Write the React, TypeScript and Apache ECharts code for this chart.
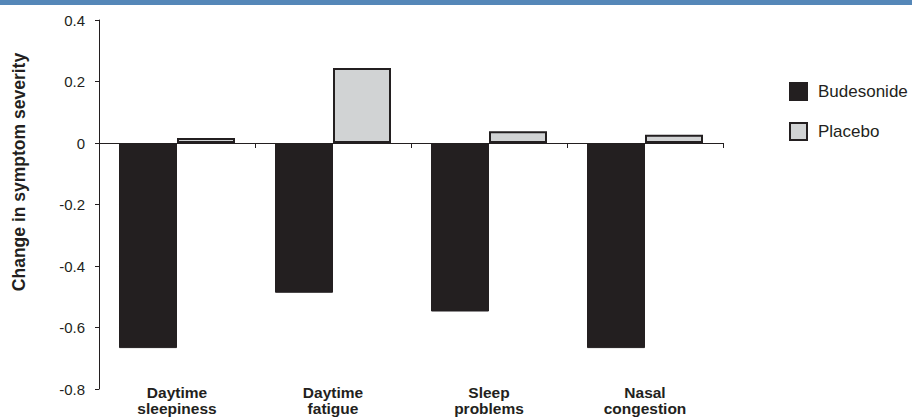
import React, { useEffect, useRef } from "react";
import * as echarts from "echarts";

const categories = ["Daytime\nsleepiness", "Daytime\nfatigue", "Sleep\nproblems", "Nasal\ncongestion"];
const budesonide = [-0.667, -0.487, -0.548, -0.667];
const placebo = [0.016, 0.244, 0.038, 0.027];
const seriesNames = ["Budesonide", "Placebo"];
const yTitle = "Change in symptom severity";

const DARK = "#231f20";
const FONT = "'Liberation Sans', Arial, Helvetica, sans-serif";

export default function App() {
  const ref = useRef<HTMLDivElement>(null);
  useEffect(() => {
    document.body.style.margin = "0";
    const chart = echarts.init(ref.current!, null, { renderer: "svg" });
    chart.setOption({
      animation: false,
      textStyle: { fontFamily: FONT, color: DARK },
      grid: {
        left: 99,
        right: 189,
        top: 20,
        bottom: 29,
        containLabel: false,
        outerBoundsMode: "none",
      },
      legend: {
        orient: "vertical",
        left: 789,
        top: 82,
        padding: 0,
        icon: "rect",
        itemWidth: 17,
        itemHeight: 17,
        itemGap: 21,
        textStyle: { fontSize: 17, color: DARK, fontFamily: FONT, padding: [0, 0, 0, 6] },
        data: seriesNames,
      },
      graphic: [
        { type: "rect", left: 0, top: 0, shape: { width: 912, height: 5 }, style: { fill: "#5587b8" } },
        {
          type: "text",
          x: 19,
          y: 172,
          rotation: Math.PI / 2,
          style: {
            text: yTitle,
            fontSize: 17.5,
            fontWeight: "bold",
            fontFamily: FONT,
            fill: DARK,
            textAlign: "center",
            textVerticalAlign: "middle",
          },
        },
      ],
      xAxis: [
        {
          type: "category",
          data: categories,
          position: "bottom",
          axisLine: { show: false, onZero: false },
          axisTick: { show: false },
          axisLabel: {
            margin: -5,
            fontSize: 15.5,
            fontWeight: "bold",
            lineHeight: 16.5,
            color: DARK,
            fontFamily: FONT,
          },
        },
        {
          type: "category",
          data: categories,
          position: "bottom",
          axisLine: { show: true, onZero: true, lineStyle: { color: DARK, width: 1 } },
          axisTick: { show: true, length: 5, lineStyle: { color: DARK, width: 1 } },
          axisLabel: { show: false },
        },
      ],
      yAxis: {
        type: "value",
        min: -0.8,
        max: 0.4,
        interval: 0.2,
        axisLine: { show: true, lineStyle: { color: DARK, width: 1 } },
        axisTick: { show: true, length: 4, lineStyle: { color: DARK } },
        splitLine: { show: false },
        axisLabel: {
          margin: 14,
          fontSize: 15,
          color: DARK,
          fontFamily: FONT,
          formatter: (v: number) => (Math.abs(v) < 1e-9 ? "0" : v.toFixed(1)),
        },
      },
      series: [
        {
          name: seriesNames[0],
          type: "bar",
          data: budesonide,
          barWidth: 58,
          barGap: "0%",
          itemStyle: { color: DARK, borderColor: DARK, borderWidth: 1 },
        },
        {
          name: seriesNames[1],
          type: "bar",
          data: placebo,
          barWidth: 58,
          barGap: "0%",
          itemStyle: { color: "#d1d3d4", borderColor: DARK, borderWidth: 2 },
        },
      ],
    });
    return () => chart.dispose();
  }, []);
  return <div ref={ref} style={{ width: 912, height: 418 }} />;
}
